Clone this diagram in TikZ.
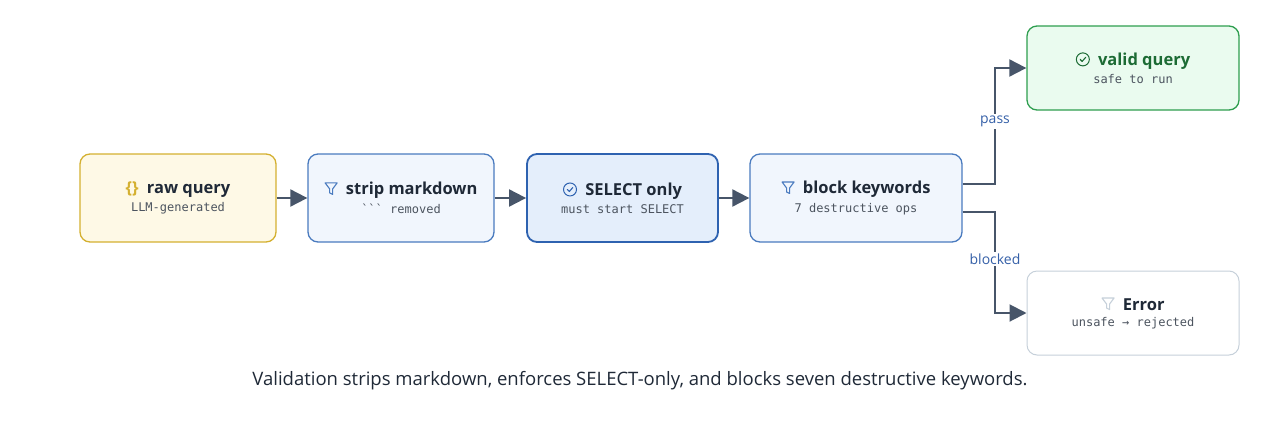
\documentclass[tikz,border=0pt]{standalone}
\usepackage{fontspec}
\setmainfont{Open Sans}
\setmonofont{DejaVu Sans Mono}
\usetikzlibrary{arrows.meta,positioning}
\definecolor{ink}{HTML}{1F2937}
\definecolor{edge}{HTML}{475569}
\definecolor{yelB}{HTML}{D4B030}
\definecolor{yelF}{HTML}{FEF9E6}
\definecolor{bluB}{HTML}{4A7BBF}
\definecolor{bluF}{HTML}{F1F6FD}
\definecolor{bluS}{HTML}{E4EEFB}
\definecolor{bluD}{HTML}{2E62B0}
\definecolor{grnB}{HTML}{2E9E4F}
\definecolor{grnF}{HTML}{EAFBEF}
\definecolor{grnT}{HTML}{1C6B34}
\definecolor{gryB}{HTML}{C6D0DA}
\definecolor{lbl}{HTML}{3560A8}
\newcommand{\ttl}{\bfseries\fontsize{16.5}{19}\selectfont}
\newcommand{\subt}{\ttfamily\fontsize{12}{15}\selectfont\color{ink!80}}
\newcommand{\funnelicon}[1]{\tikz[baseline=0pt,x=1pt,y=1pt,sharp corners]\draw[#1,line width=1.1pt,line join=round] (0,12)--(12,12)--(7.5,6)--(7.5,0.5)--(4.5,2)--(4.5,6)--cycle;}
\newcommand{\checkicon}[1]{\tikz[baseline=-1pt,x=1pt,y=1pt,sharp corners]{\draw[#1,line width=1pt] (6,5) circle (6.5);\draw[#1,line width=1.1pt,line cap=round,line join=round] (3.3,5)--(5.3,3)--(8.8,7);}}
\tikzset{
  stage/.style={draw, rounded corners=10pt, line width=1.3pt, minimum height=88pt, align=center, inner sep=0pt, text=ink},
  flow/.style={edge, line width=2pt, -{Triangle[length=17pt,width=17pt]}},
  tag/.style={fill=white, text=lbl, font=\fontsize{14}{16}\selectfont, inner sep=2pt}
}
\begin{document}
\begin{tikzpicture}[x=1pt,y=-1pt]
\useasboundingbox (0,0) rectangle (1280,421);
% pipeline stages
\node[stage, draw=yelB, fill=yelF, minimum width=196pt] (raw) at (178,198)
  {{\ttl\textcolor{yelB}{\{\}}\enspace raw query}\\[4pt]{\subt LLM-generated}};
\node[stage, draw=bluB, fill=bluF, minimum width=186pt] (strip) at (401,198)
  {{\ttl\funnelicon{bluB}\enspace strip markdown}\\[4pt]{\subt ``` removed}};
\node[stage, draw=bluD, fill=bluS, minimum width=191pt, line width=1.8pt] (select) at (622.5,198)
  {{\ttl\checkicon{bluD}\enspace SELECT only}\\[4pt]{\subt must start SELECT}};
\node[stage, draw=bluB, fill=bluF, minimum width=212pt] (block) at (856,198)
  {{\ttl\funnelicon{bluB}\enspace block keywords}\\[4pt]{\subt 7 destructive ops}};
% outcomes
\node[stage, draw=grnB, fill=grnF, minimum width=212pt, minimum height=84pt] (valid) at (1133,68)
  {{\ttl\checkicon{grnT}\enspace\textcolor{grnT}{valid query}}\\[4pt]{\subt safe to run}};
\node[stage, draw=gryB, fill=white, minimum width=212pt, minimum height=84pt, line width=1pt] (error) at (1133,313)
  {{\ttl\funnelicon{gryB}\enspace Error}\\[4pt]{\subt unsafe → rejected}};
% connectors
\draw[flow] (raw) -- (strip);
\draw[flow] (strip) -- (select);
\draw[flow] (select) -- (block);
\coordinate (up) at (995,184);
\coordinate (dn) at (995,212);
\draw[flow] (block.east |- up) -- (up) |- (valid.west);
\draw[flow] (block.east |- dn) -- (dn) |- (error.west);
\node[tag] (pass) at (995,121) {pass};
\node[tag] (blk) at (995,259) {blocked};
% caption
\node[text=ink, font=\fontsize{18.5}{22}\selectfont] (cap) at (640,381)
  {Validation strips markdown, enforces SELECT-only, and blocks seven destructive keywords.};
\end{tikzpicture}
\end{document}
